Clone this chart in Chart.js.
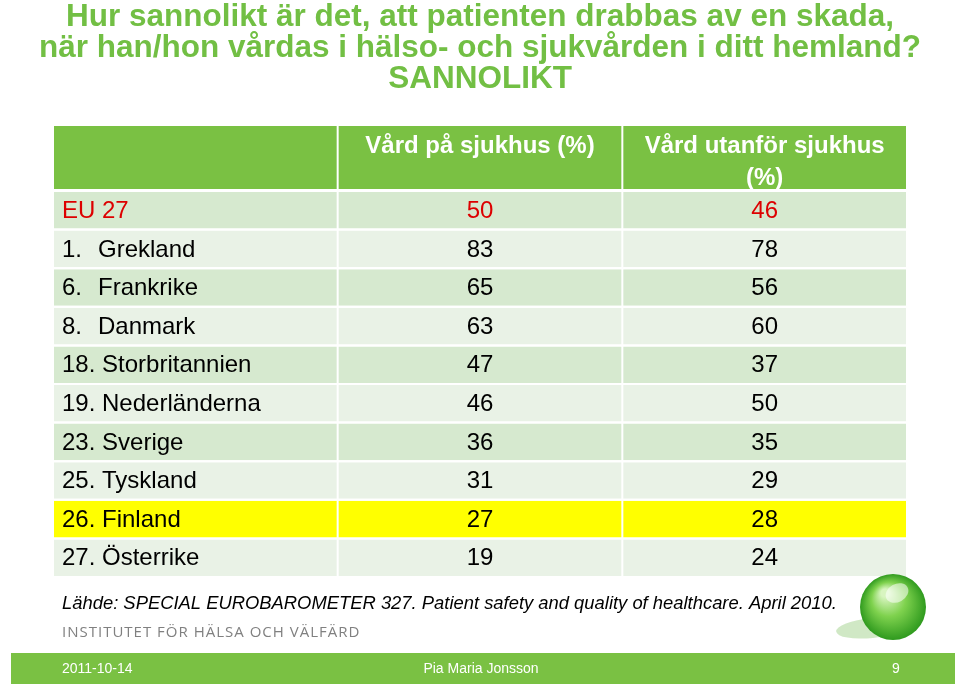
<!DOCTYPE html>
<html>
<head>
<meta charset="utf-8">
<script src="https://cdn.jsdelivr.net/npm/chart.js@4.4.1/dist/chart.umd.min.js"></script>
<style>
  html, body { margin: 0; padding: 0; background: #ffffff; }
  #wrap { width: 960px; height: 686px; position: relative; }
  canvas { display: block; }
</style>
</head>
<body>
<div id="wrap"><canvas id="c" width="960" height="686"></canvas></div>
<script>
// ---- Data ----
const titleLines = [
  'Hur sannolikt är det, att patienten drabbas av en skada,',
  'när han/hon vårdas i hälso- och sjukvården i ditt hemland?',
  'SANNOLIKT'
];
const columnHeaders = ['', 'Vård på sjukhus (%)', 'Vård utanför sjukhus\n(%)'];
const rowLabels = [
  'EU 27', '1. Grekland', '6. Frankrike', '8. Danmark', '18. Storbritannien',
  '19. Nederländerna', '23. Sverige', '25. Tyskland', '26. Finland', '27. Österrike'
];
const hospitalCare = [50, 83, 65, 63, 47, 46, 36, 31, 27, 19];
const outsideCare  = [46, 78, 56, 60, 37, 50, 35, 29, 28, 24];
const referenceRow = 'EU 27';
const highlightRow = '26. Finland';
const sourceText = 'Lähde: SPECIAL EUROBAROMETER 327. Patient safety and quality of healthcare. April 2010.';
const instituteText = 'INSTITUTET FÖR HÄLSA OCH VÄLFÄRD';
const footerDate = '2011-10-14';
const footerAuthor = 'Pia Maria Jonsson';
const footerPage = '9';

// ---- Styles ----
const GREEN = '#7ac143';
const TITLE_GREEN = '#72bf44';
const ROW_DARK = '#d6e9cf';
const ROW_LIGHT = '#e9f2e6';
const YELLOW = '#ffff00';
const RED = '#dd0000';
const FONT = '"Liberation Sans", Arial, Helvetica, sans-serif';

const rowColor = rowLabels.map((l, i) => l === highlightRow ? YELLOW : (i % 2 === 0 ? ROW_DARK : ROW_LIGHT));
const columnText = [rowLabels, hospitalCare, outsideCare];

const datasets = [0, 1, 2].map(c => ({
  label: 'col' + c,
  data: rowLabels.map(() => [c, c + 1]),
  backgroundColor: rowColor,
  borderColor: '#ffffff',
  borderWidth: { left: 1, right: 1, top: 0, bottom: 0 },
  borderSkipped: false,
  grouped: false,
  categoryPercentage: 1,
  barPercentage: 0.948
}));

const tablePlugin = {
  id: 'tableText',
  afterDatasetsDraw(chart) {
    const ctx = chart.ctx;
    const xs = chart.scales.x, ys = chart.scales.y;
    const area = chart.chartArea;
    ctx.save();
    // title
    ctx.fillStyle = TITLE_GREEN;
    ctx.font = 'bold 31.5px ' + FONT;
    ctx.textAlign = 'center';
    ctx.textBaseline = 'middle';
    titleLines.forEach((ln, k) => ctx.fillText(ln, chart.width / 2, 17 + k * 31));
    // header cells
    const hTop = area.top - 65, hBottom = area.top - 2;
    for (let c = 0; c < 3; c++) {
      const x0 = xs.getPixelForValue(c), x1 = xs.getPixelForValue(c + 1);
      ctx.fillStyle = GREEN;
      ctx.fillRect(x0 + 1, hTop, x1 - x0 - 2, hBottom - hTop);
      const lines = columnHeaders[c].split('\n');
      ctx.fillStyle = '#ffffff';
      ctx.font = 'bold 24px ' + FONT;
      ctx.textAlign = 'center';
      ctx.textBaseline = 'middle';
      lines.forEach((ln, k) => ctx.fillText(ln, (x0 + x1) / 2, hTop + 20 + k * 32));
    }
    // body text
    ctx.font = '24px ' + FONT;
    ctx.textBaseline = 'middle';
    rowLabels.forEach((lab, i) => {
      const y = ys.getPixelForValue(i) + 1;
      ctx.fillStyle = lab === referenceRow ? RED : '#000000';
      const x0 = xs.getPixelForValue(0) + 9;
      ctx.textAlign = 'left';
      const m = lab.match(/^(\d+\.)\s(.*)$/);
      if (m) {
        ctx.fillText(m[1], x0, y);
        const w = ctx.measureText(m[1] + ' ').width;
        ctx.fillText(m[2], Math.max(x0 + w, x0 + 36), y);
      } else {
        ctx.fillText(lab, x0, y);
      }
      ctx.textAlign = 'center';
      ctx.fillText(String(columnText[1][i]), xs.getPixelForValue(1.5), y);
      ctx.fillText(String(columnText[2][i]), xs.getPixelForValue(2.5), y);
    });
    ctx.restore();
  },
  afterDraw(chart) {
    const ctx = chart.ctx;
    const W = chart.width;
    ctx.save();
    // source
    ctx.fillStyle = '#000000';
    ctx.font = 'italic 18.4px ' + FONT;
    ctx.textAlign = 'left';
    ctx.textBaseline = 'middle';
    ctx.fillText(sourceText, 62, 604);
    // institute
    ctx.fillStyle = '#808080';
    ctx.font = '15px "Open Sans", sans-serif';
    try { ctx.letterSpacing = '1px'; } catch (e) {}
    ctx.fillText(instituteText, 62, 633);
    try { ctx.letterSpacing = '0px'; } catch (e) {}
    // footer bar
    ctx.fillStyle = GREEN;
    ctx.fillRect(11, 653, W - 16, 31);
    ctx.fillStyle = '#ffffff';
    ctx.font = '14px ' + FONT;
    ctx.fillText(footerDate, 62, 669);
    ctx.textAlign = 'center';
    ctx.fillText(footerAuthor, 481, 669);
    ctx.fillText(footerPage, 896, 669);
    // decorative globe
    const gx = 893, gy = 607, r = 33;
    ctx.fillStyle = 'rgba(120,190,90,0.35)';
    ctx.beginPath(); ctx.ellipse(872, 628, 36, 10, -0.1, 0, Math.PI * 2); ctx.fill();
    const g = ctx.createRadialGradient(gx - 8, gy - 14, 4, gx, gy, r);
    g.addColorStop(0, '#d8f5c0');
    g.addColorStop(0.45, '#7fd24e');
    g.addColorStop(1, '#2f9a1e');
    ctx.fillStyle = g;
    ctx.beginPath(); ctx.arc(gx, gy, r, 0, Math.PI * 2); ctx.fill();
    ctx.fillStyle = 'rgba(255,255,255,0.55)';
    ctx.beginPath(); ctx.ellipse(gx + 4, gy - 14, 12, 9, -0.5, 0, Math.PI * 2); ctx.fill();
    ctx.restore();
  }
};

new Chart(document.getElementById('c'), {
  type: 'bar',
  data: { labels: rowLabels, datasets },
  options: {
    indexAxis: 'y',
    responsive: false,
    animation: false,
    devicePixelRatio: 1,
    layout: { padding: { left: 53, right: 53, top: 191, bottom: 109 } },
    scales: {
      x: { type: 'linear', min: 0, max: 3, display: false, grid: { display: false } },
      y: { type: 'category', display: false, grid: { display: false } }
    },
    plugins: {
      legend: { display: false },
      tooltip: { enabled: false },
      title: { display: false }
    }
  },
  plugins: [tablePlugin]
});
</script>
</body>
</html>
